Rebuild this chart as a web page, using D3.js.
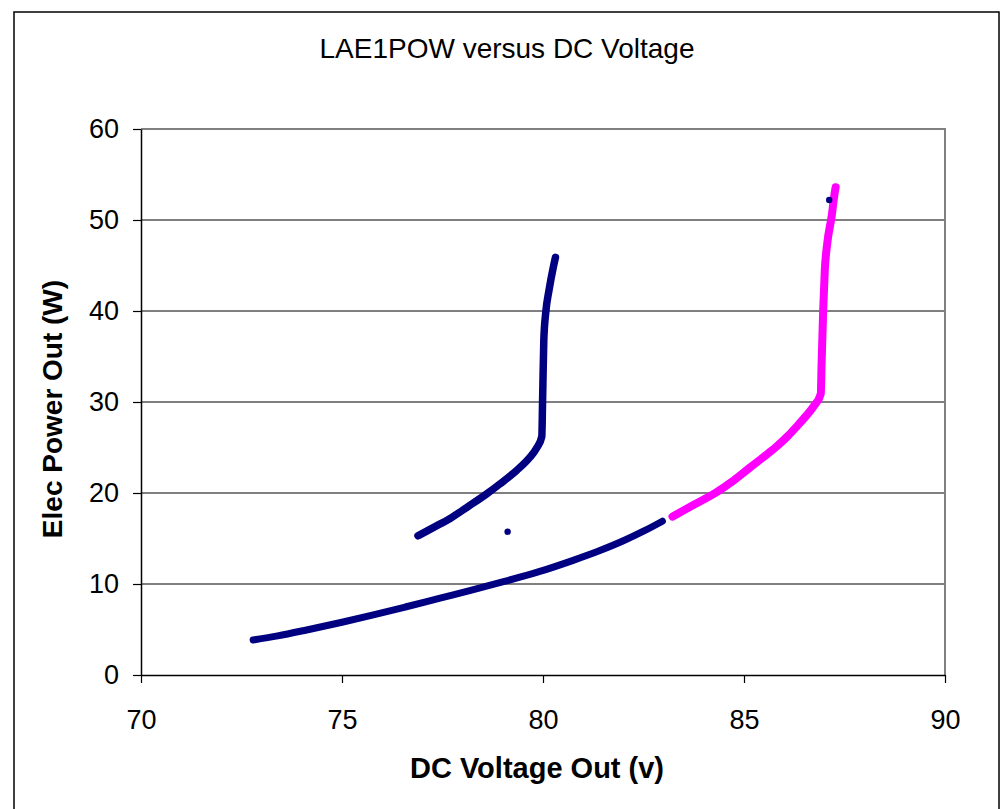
<!DOCTYPE html>
<html>
<head>
<meta charset="utf-8">
<script src="https://cdn.jsdelivr.net/npm/d3@7"></script>
<style>
  html, body { margin: 0; padding: 0; background: #fff; }
  svg { display: block; }
  text { font-family: "Liberation Sans", Arial, sans-serif; fill: #000; }
</style>
</head>
<body>
<svg id="chart" width="1000" height="809"></svg>
<script>
// ---- data ----
const chartTitle = "LAE1POW versus DC Voltage";
const xTitle = "DC Voltage Out (v)";
const yTitle = "Elec Power Out (W)";
const xTicks = [70, 75, 80, 85, 90];
const yTicks = [0, 10, 20, 30, 40, 50, 60];

// navy: lower branch
const lowerV = [72.79, 73.40, 74.12, 75.00, 75.78, 76.60, 77.44, 78.20, 78.97, 79.90, 80.75, 81.40, 82.00, 82.50, 82.97];
const lowerP = [3.85, 4.30, 4.95, 5.80, 6.60, 7.50, 8.45, 9.30, 10.20, 11.35, 12.60, 13.65, 14.75, 15.80, 16.90];
// navy: upper branch
const upperV = [76.89, 77.27, 77.69, 78.10, 78.60, 78.93, 79.35, 79.65, 79.85, 79.97, 79.99, 80.02, 80.07, 80.15, 80.26, 80.31];
const upperP = [15.3, 16.2, 17.2, 18.4, 19.9, 21.0, 22.5, 23.8, 25.0, 26.2, 30.2, 36.8, 39.9, 42.3, 44.9, 45.9];
// magenta branch
const pinkV = [83.22, 83.75, 84.32, 84.75, 85.15, 85.50, 85.81, 86.10, 86.31, 86.55, 86.73, 86.91, 86.93, 86.97, 87.01, 87.07, 87.18, 87.26, 87.28];
const pinkP = [17.4, 18.7, 20.1, 21.4, 22.8, 24.0, 25.1, 26.3, 27.3, 28.5, 29.5, 30.9, 34.2, 40.1, 44.5, 47.4, 50.4, 53.1, 53.6];
// isolated navy points
const strayV = [79.12, 87.12];
const strayP = [15.75, 52.2];

// ---- layout ----
const svg = d3.select("#chart");
const L = 141, R = 945, T = 129, B = 675;
const x = d3.scaleLinear().domain([70, 90]).range([L, R]);
const y = d3.scaleLinear().domain([0, 60]).range([B, T]);

// outer chart border
svg.append("rect").attr("x", 14).attr("y", 12).attr("width", 985).attr("height", 820)
  .attr("fill", "none").attr("stroke", "#000").attr("stroke-width", 1.5);

// gridlines
svg.append("g").selectAll("line").data(yTicks.filter(d => d > 0 && d < 60)).join("line")
  .attr("x1", L).attr("x2", R).attr("y1", d => y(d)).attr("y2", d => y(d))
  .attr("stroke", "#000").attr("stroke-width", 1);

// plot area border (top/right grey)
svg.append("path").attr("d", `M${L},${y(60)}H${R}V${B}`)
  .attr("fill", "none").attr("stroke", "#808080").attr("stroke-width", 2);

// axes
const xAxis = d3.axisBottom(x).tickValues(xTicks).tickSize(8).tickSizeOuter(0).tickFormat(d3.format("d")).tickPadding(27);
const gx = svg.append("g").attr("transform", `translate(0,${B})`).call(xAxis);
gx.select(".domain").attr("stroke", "#000").attr("stroke-width", 1.5);
gx.selectAll(".tick line").attr("stroke", "#000").attr("stroke-width", 1.2);
gx.selectAll("text").attr("font-size", 27).attr("font-family", "Liberation Sans, Arial, sans-serif").attr("fill", "#000");

const yAxis = d3.axisLeft(y).tickValues(yTicks).tickSize(8).tickSizeOuter(0).tickFormat(d3.format("d")).tickPadding(14);
const gy = svg.append("g").attr("transform", `translate(${L},0)`).call(yAxis);
gy.select(".domain").attr("stroke", "#000").attr("stroke-width", 1.5);
gy.selectAll(".tick line").attr("stroke", "#000").attr("stroke-width", 1.2);
gy.selectAll("text").attr("font-size", 27).attr("font-family", "Liberation Sans, Arial, sans-serif").attr("fill", "#000");

// titles
svg.append("text").attr("x", 507).attr("y", 58).attr("text-anchor", "middle")
  .attr("font-size", 28).text(chartTitle);
svg.append("text").attr("x", 537).attr("y", 778).attr("text-anchor", "middle")
  .attr("font-size", 29).attr("font-weight", "bold").text(xTitle);
svg.append("text").attr("transform", "translate(62,409) rotate(-90)").attr("text-anchor", "middle")
  .attr("font-size", 28).attr("font-weight", "bold").text(yTitle);

// series
const line = d3.line().x(d => x(d[0])).y(d => y(d[1])).curve(d3.curveMonotoneX);
const zip = (a, b) => a.map((v, i) => [v, b[i]]);
const series = [
  { pts: zip(lowerV, lowerP), color: "#000080", w: 7 },
  { pts: zip(upperV, upperP), color: "#000080", w: 7.5 },
  { pts: zip(pinkV, pinkP), color: "#FF00FF", w: 8 }
];
const gs = svg.append("g");
series.forEach(s => {
  gs.append("path").datum(s.pts).attr("d", line).attr("fill", "none")
    .attr("stroke", s.color).attr("stroke-width", s.w)
    .attr("stroke-linecap", "round").attr("stroke-linejoin", "round");
});
gs.append("g").selectAll("circle").data(zip(strayV, strayP)).join("circle")
  .attr("cx", d => x(d[0])).attr("cy", d => y(d[1])).attr("r", 3.2).attr("fill", "#000080");
</script>
</body>
</html>
